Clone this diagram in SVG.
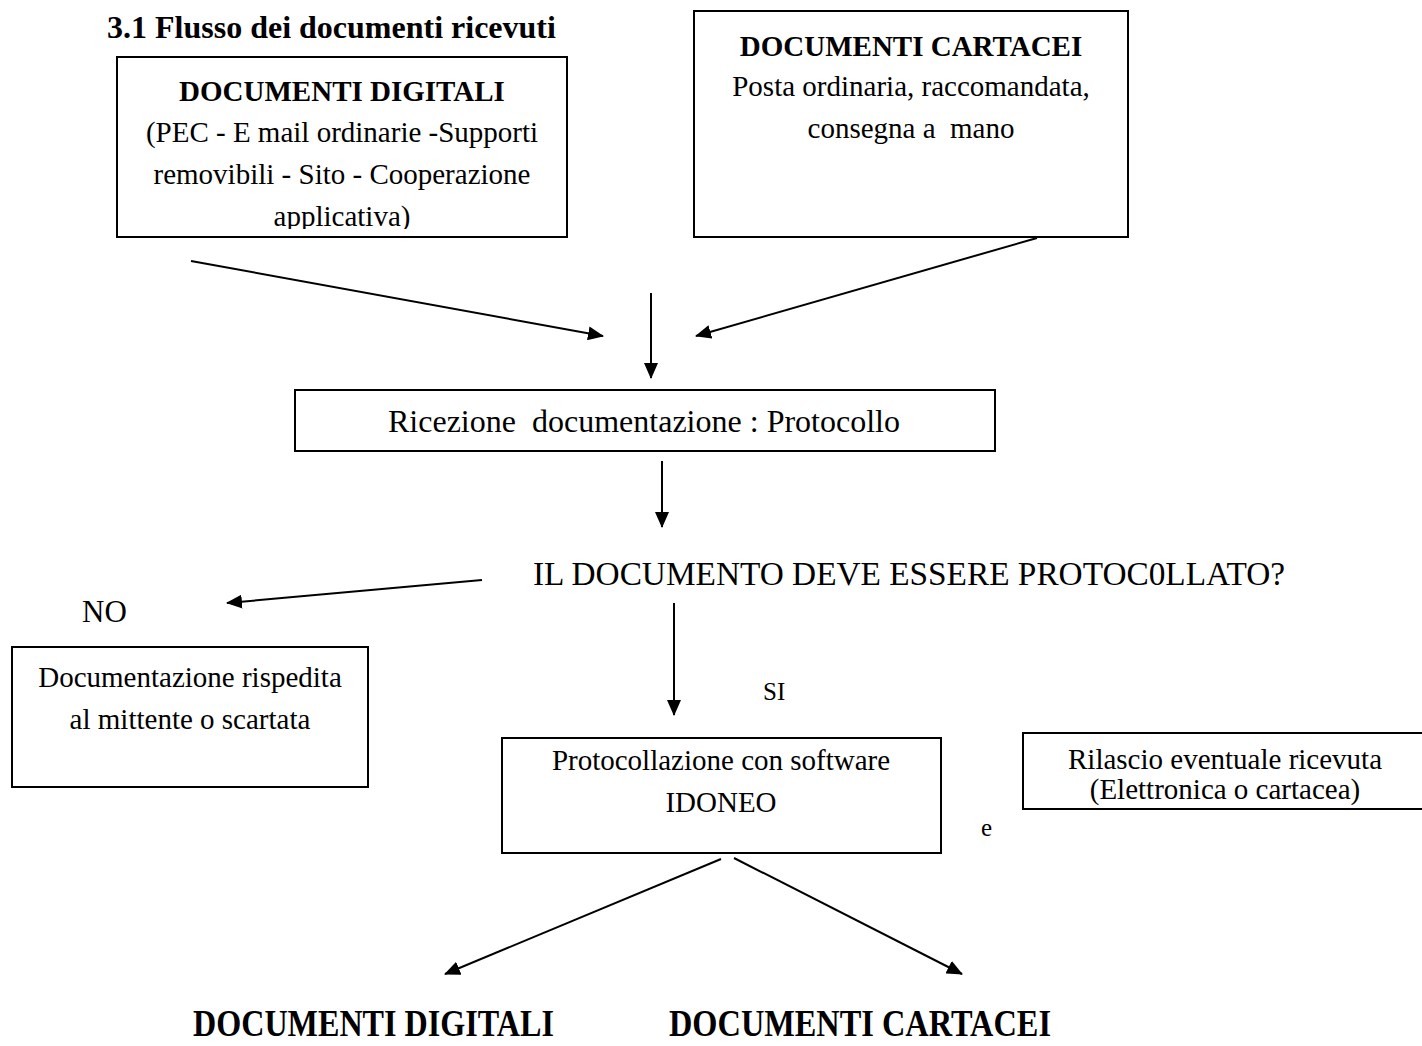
<svg xmlns="http://www.w3.org/2000/svg" width="1422" height="1046" viewBox="0 0 1422 1046">
<style>
text { font-family: "Liberation Serif", "Times New Roman", serif; fill: #000; white-space: pre; }
.t { font-size: 29px; text-anchor: middle; }
.b { font-weight: bold; }
.box { fill: #fff; stroke: #000; stroke-width: 2; }
.c line { stroke: #000; stroke-width: 2; marker-end: url(#ah); }
</style>
<defs>
<marker id="ah" markerUnits="userSpaceOnUse" markerWidth="16" markerHeight="14" refX="15" refY="7" orient="auto">
<path d="M0,0 L16,7 L0,14 z" fill="#000"/>
</marker>
<clipPath id="clip1"><rect x="117" y="57" width="450" height="172"/></clipPath>
</defs>
<rect width="1422" height="1046" fill="#fff"/>
<g id="title">
<text x="107" y="38" class="b" style="font-size:32px">3.1 Flusso dei documenti ricevuti</text>
</g>
<g id="node-digitali">
<rect class="box" x="117" y="57" width="450" height="180"/>
<g clip-path="url(#clip1)">
<text class="t b" x="342" y="101">DOCUMENTI DIGITALI</text>
<text class="t" x="342" y="142">(PEC - E mail ordinarie -Supporti</text>
<text class="t" x="342" y="184">removibili - Sito - Cooperazione</text>
<text class="t" x="342" y="226">applicativa)</text>
</g>
</g>
<g id="node-cartacei">
<rect class="box" x="694" y="11" width="434" height="226"/>
<text class="t b" x="911" y="56">DOCUMENTI CARTACEI</text>
<text class="t" x="911" y="96">Posta ordinaria, raccomandata,</text>
<text class="t" x="911" y="138" xml:space="preserve">consegna a  mano</text>
</g>
<g id="node-ricezione">
<rect class="box" x="295" y="390" width="700" height="61"/>
<text x="644" y="432" text-anchor="middle" style="font-size:32px" textLength="512" lengthAdjust="spacingAndGlyphs" xml:space="preserve">Ricezione  documentazione : Protocollo</text>
</g>
<g id="node-domanda">
<text x="533" y="585" style="font-size:33px" textLength="752" lengthAdjust="spacingAndGlyphs">IL DOCUMENTO DEVE ESSERE PROTOC0LLATO?</text>
</g>
<g id="label-no">
<text x="82" y="622" style="font-size:31px">NO</text>
</g>
<g id="node-rispedita">
<rect class="box" x="12" y="647" width="356" height="140"/>
<text class="t" x="190" y="687">Documentazione rispedita</text>
<text class="t" x="190" y="729">al mittente o scartata</text>
</g>
<g id="label-si">
<text x="763" y="700" style="font-size:25px">SI</text>
</g>
<g id="node-protocollazione">
<rect class="box" x="502" y="738" width="439" height="115"/>
<text class="t" x="721" y="770">Protocollazione con software</text>
<text class="t" x="721" y="812">IDONEO</text>
</g>
<g id="label-e">
<text x="981" y="836" style="font-size:25px">e</text>
</g>
<g id="node-rilascio">
<rect class="box" x="1023" y="733" width="410" height="76"/>
<text class="t" x="1225" y="769">Rilascio eventuale ricevuta</text>
<text class="t" x="1225" y="799">(Elettronica o cartacea)</text>
</g>
<g id="node-out-digitali">
<text x="193" y="1036" class="b" style="font-size:38px" textLength="361" lengthAdjust="spacingAndGlyphs">DOCUMENTI DIGITALI</text>
</g>
<g id="node-out-cartacei">
<text x="669" y="1036" class="b" style="font-size:38px" textLength="382" lengthAdjust="spacingAndGlyphs">DOCUMENTI CARTACEI</text>
</g>
<g id="connectors" class="c">
<line x1="191" y1="261" x2="603" y2="336"/>
<line x1="1037" y1="238" x2="696" y2="336"/>
<line x1="651" y1="293" x2="651" y2="378"/>
<line x1="662" y1="461" x2="662" y2="527"/>
<line x1="482" y1="580" x2="227" y2="603"/>
<line x1="674" y1="603" x2="674" y2="715"/>
<line x1="721" y1="859" x2="445" y2="974"/>
<line x1="734" y1="858" x2="962" y2="974"/>
</g>
</svg>
